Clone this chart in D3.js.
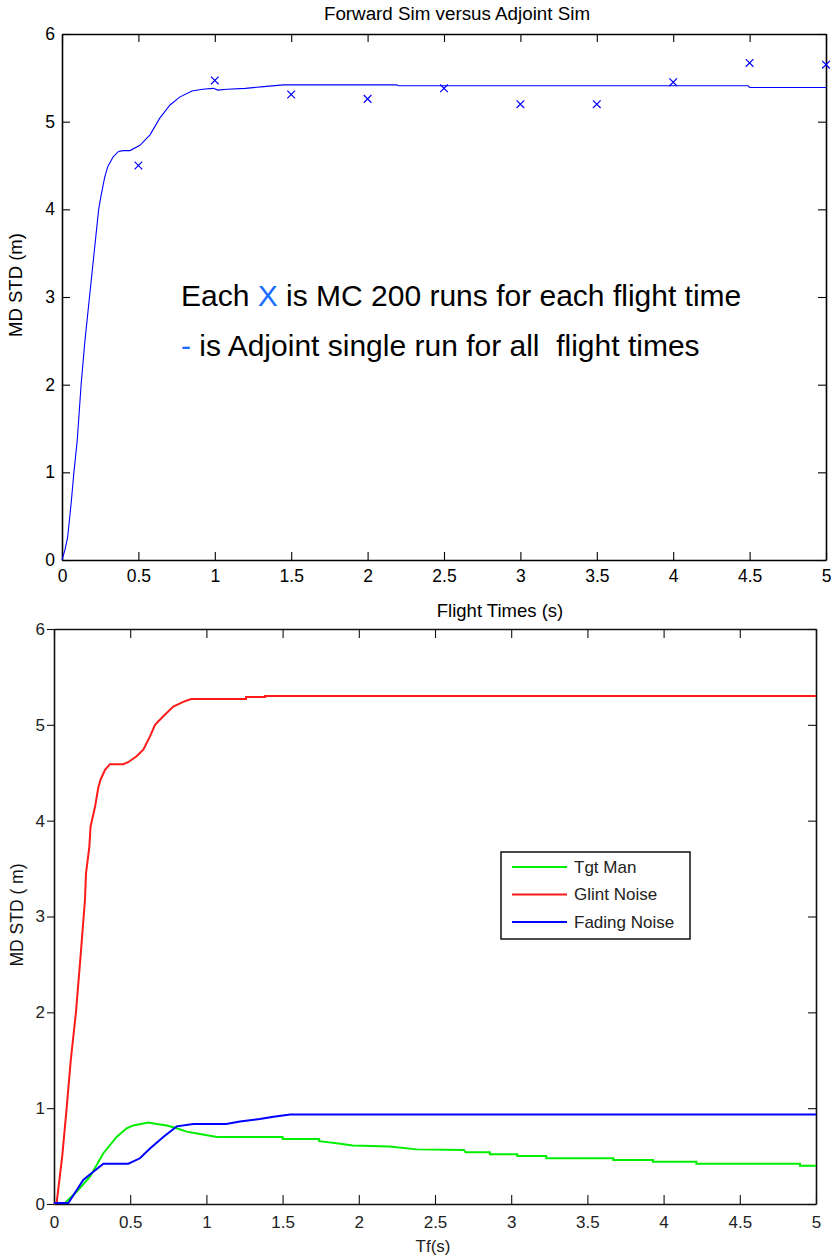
<!DOCTYPE html>
<html>
<head>
<meta charset="utf-8">
<script src="https://cdn.jsdelivr.net/npm/d3@7"></script>
<style>
  body { margin: 0; background: #fff; }
  svg { display: block; font-family: "Liberation Sans", Arial, sans-serif; }
</style>
</head>
<body>
<svg id="theSVG"></svg>
<script>
// ---- data ----
var xTicks = [0, 0.5, 1, 1.5, 2, 2.5, 3, 3.5, 4, 4.5, 5];
var yTicks = [0, 1, 2, 3, 4, 5, 6];

// top panel: Monte Carlo points (x) and adjoint curve
var mcTimes = [0.5, 1, 1.5, 2, 2.5, 3, 3.5, 4, 4.5, 5];
var mcStd   = [4.50, 5.47, 5.31, 5.26, 5.38, 5.20, 5.20, 5.45, 5.67, 5.65];

var adjT   = [0, 0.02, 0.037, 0.06, 0.078, 0.10, 0.125, 0.15, 0.18, 0.21, 0.24, 0.255, 0.28, 0.30,
              0.335, 0.37, 0.40, 0.445, 0.51, 0.576, 0.64, 0.707, 0.77, 0.85, 0.92, 0.99, 1.02,
              1.08, 1.2, 1.32, 1.45, 2.19, 2.2, 4.49, 4.5, 5];
var adjStd = [0, 0.12, 0.26, 0.65, 1.0, 1.37, 2.0, 2.5, 3.0, 3.5, 4.0, 4.15, 4.37, 4.49,
              4.6, 4.66, 4.67, 4.67, 4.73, 4.85, 5.04, 5.19, 5.28, 5.35, 5.37, 5.38, 5.36,
              5.37, 5.38, 5.40, 5.42, 5.42, 5.41, 5.41, 5.39, 5.39];

// bottom panel: error budget
var tgtT   = [0, 0.072, 0.15, 0.236, 0.324, 0.411, 0.477, 0.52, 0.62, 0.674, 0.74, 0.805, 0.87, 0.958,
              1.07, 1.5, 1.5, 1.74, 1.74, 1.855, 1.96, 2.2, 2.38, 2.69, 2.70, 2.86, 2.86, 3.04, 3.04,
              3.23, 3.23, 3.67, 3.67, 3.93, 3.93, 4.215, 4.215, 4.895, 4.895, 5];
var tgtStd = [0.01, 0.01, 0.13, 0.285, 0.53, 0.70, 0.79, 0.82, 0.85, 0.835, 0.82, 0.79, 0.755, 0.73,
              0.70, 0.70, 0.677, 0.677, 0.655, 0.633, 0.61, 0.60, 0.57, 0.563, 0.54, 0.54, 0.52, 0.52, 0.50,
              0.50, 0.477, 0.477, 0.46, 0.46, 0.44, 0.44, 0.42, 0.42, 0.40, 0.40];

var glintT   = [0, 0.018, 0.054, 0.083, 0.11, 0.144, 0.175, 0.203, 0.21, 0.232, 0.24, 0.27, 0.29, 0.306,
                0.335, 0.367, 0.455, 0.486, 0.54, 0.586, 0.63, 0.663, 0.717, 0.783, 0.848, 0.90,
                1.26, 1.26, 1.385, 1.385, 5];
var glintStd = [0, 0.02, 0.5, 1.0, 1.5, 2.0, 2.6, 3.17, 3.45, 3.73, 3.94, 4.15, 4.34, 4.43,
                4.53, 4.59, 4.59, 4.61, 4.67, 4.74, 4.88, 5.0, 5.09, 5.19, 5.24, 5.27,
                5.27, 5.29, 5.29, 5.30, 5.30];

var fadeT   = [0, 0.094, 0.192, 0.258, 0.324, 0.488, 0.564, 0.63, 0.717, 0.805, 0.914, 1.13, 1.22,
               1.35, 1.44, 1.55, 5];
var fadeStd = [0.01, 0.01, 0.25, 0.337, 0.42, 0.42, 0.477, 0.58, 0.70, 0.81, 0.835, 0.835, 0.86,
               0.887, 0.91, 0.935, 0.935];

var legendNames  = ["Tgt Man", "Glint Noise", "Fading Noise"];
var legendColors = ["#00ee00", "#ff1a1a", "#0000ff"];

// ---- drawing ----
var W = 840, H = 1258;
var svg = d3.select("#theSVG").attr("width", W).attr("height", H);
var fmt = function(d){ return String(d); };

function zip(xs, ys){ return xs.map(function(x, i){ return [x, ys[i]]; }); }

function frame(g, x, y, opt){
    var b = y.range()[0], t = y.range()[1], l = x.range()[0], r = x.range()[1];
    var gx = g.append("g").attr("transform", "translate(0," + b + ")")
        .call(d3.axisBottom(x).tickValues(xTicks).tickFormat(fmt)
              .tickSize(-opt.tickX).tickSizeOuter(0).tickPadding(opt.padX));
    var gt = g.append("g").attr("transform", "translate(0," + t + ")")
        .call(d3.axisTop(x).tickValues(xTicks).tickFormat("")
              .tickSize(-opt.tickX).tickSizeOuter(0));
    var gy = g.append("g").attr("transform", "translate(" + l + ",0)")
        .call(d3.axisLeft(y).tickValues(yTicks).tickFormat(fmt)
              .tickSize(opt.tickYLeft).tickSizeOuter(0).tickPadding(opt.padY));
    var gr = g.append("g").attr("transform", "translate(" + r + ",0)")
        .call(d3.axisRight(y).tickValues(yTicks).tickFormat("")
              .tickSize(-opt.tickY).tickSizeOuter(0));
    [gx, gt, gy, gr].forEach(function(a){
        a.select(".domain").attr("stroke", opt.axisColor).attr("stroke-width", 1.6);
        a.selectAll(".tick line").attr("stroke", opt.axisColor).attr("stroke-width", 1.1);
        a.selectAll(".tick text").attr("fill", opt.textColor)
            .style("font-size", opt.fontSize + "px")
            .style("font-family", "'Liberation Sans', Arial, sans-serif");
    });
}

// ===== top panel =====
var x1 = d3.scaleLinear().domain([0, 5]).range([62, 826]);
var y1 = d3.scaleLinear().domain([0, 6]).range([560, 34]);
var g1 = svg.append("g");

frame(g1, x1, y1, {tickX: 8, tickY: 8, tickYLeft: -8, padX: 10, padY: 7,
                   axisColor: "#000", textColor: "#000", fontSize: 17.5});

g1.append("path")
    .datum(zip(adjT, adjStd))
    .attr("fill", "none")
    .attr("stroke", "#0000ff")
    .attr("stroke-width", 1.1)
    .attr("d", d3.line().x(function(d){ return x1(d[0]); }).y(function(d){ return y1(d[1]); }));

g1.append("g").selectAll("path")
    .data(zip(mcTimes, mcStd))
    .enter().append("path")
    .attr("transform", function(d){ return "translate(" + x1(d[0]) + "," + y1(d[1]) + ")"; })
    .attr("d", d3.symbol().type(d3.symbolX).size(40))
    .attr("fill", "none")
    .attr("stroke", "#0000ff")
    .attr("stroke-width", 1.2);

g1.append("text")
    .attr("x", 457).attr("y", 20)
    .attr("text-anchor", "middle")
    .style("font-size", "18.8px")
    .text("Forward Sim versus Adjoint Sim");

g1.append("text")
    .attr("x", 500).attr("y", 617)
    .attr("text-anchor", "middle")
    .style("font-size", "18.5px")
    .text("Flight Times (s)");

g1.append("text")
    .attr("transform", "translate(22,285) rotate(-90)")
    .attr("text-anchor", "middle")
    .style("font-size", "18.5px")
    .text("MD STD (m)");

var note1 = g1.append("text").attr("x", 181).attr("y", 306)
    .style("font-size", "30px").style("white-space", "pre");
note1.append("tspan").text("Each ");
note1.append("tspan").attr("fill", "#1a6eff").text("X");
note1.append("tspan").text(" is MC 200 runs for each flight time");

var note2 = g1.append("text").attr("x", 181).attr("y", 356)
    .style("font-size", "30px").style("white-space", "pre");
note2.append("tspan").attr("fill", "#1a6eff").text("-");
note2.append("tspan").text(" is Adjoint single run for all  flight times");

// ===== bottom panel =====
var x2 = d3.scaleLinear().domain([0, 5]).range([54, 816]);
var y2 = d3.scaleLinear().domain([0, 6]).range([1204, 629]);
var g2 = svg.append("g");

frame(g2, x2, y2, {tickX: 9, tickY: 8, tickYLeft: 7, padX: 12, padY: 2,
                   axisColor: "#111", textColor: "#222", fontSize: 17});

var line2 = d3.line().x(function(d){ return x2(d[0]); }).y(function(d){ return y2(d[1]); });
var series2 = [zip(tgtT, tgtStd), zip(glintT, glintStd), zip(fadeT, fadeStd)];

g2.append("g").selectAll("path")
    .data(series2)
    .enter().append("path")
    .attr("fill", "none")
    .attr("stroke", function(d, i){ return legendColors[i]; })
    .attr("stroke-width", 2)
    .attr("d", line2);

g2.append("text")
    .attr("x", 433).attr("y", 1252)
    .attr("text-anchor", "middle")
    .attr("fill", "#222")
    .style("font-size", "17px")
    .text("Tf(s)");

g2.append("text")
    .attr("transform", "translate(23,915) rotate(-90)")
    .attr("text-anchor", "middle")
    .attr("fill", "#111")
    .style("font-size", "17.5px")
    .text("MD STD ( m)");

// legend
var leg = g2.append("g");
leg.append("rect")
    .attr("x", 501).attr("y", 852).attr("width", 189).attr("height", 87)
    .attr("fill", "#fff").attr("stroke", "#111").attr("stroke-width", 1.5);
var rowY = [867, 894.5, 922];
var item = leg.selectAll("g.item").data(legendNames).enter().append("g").attr("class", "item");
item.append("line")
    .attr("x1", 512).attr("x2", 567)
    .attr("y1", function(d, i){ return rowY[i]; })
    .attr("y2", function(d, i){ return rowY[i]; })
    .attr("stroke", function(d, i){ return legendColors[i]; })
    .attr("stroke-width", 2);
item.append("text")
    .attr("x", 574)
    .attr("y", function(d, i){ return rowY[i]; })
    .attr("dy", "0.35em")
    .attr("fill", "#222")
    .style("font-size", "17px")
    .text(function(d){ return d; });
</script>
</body>
</html>
